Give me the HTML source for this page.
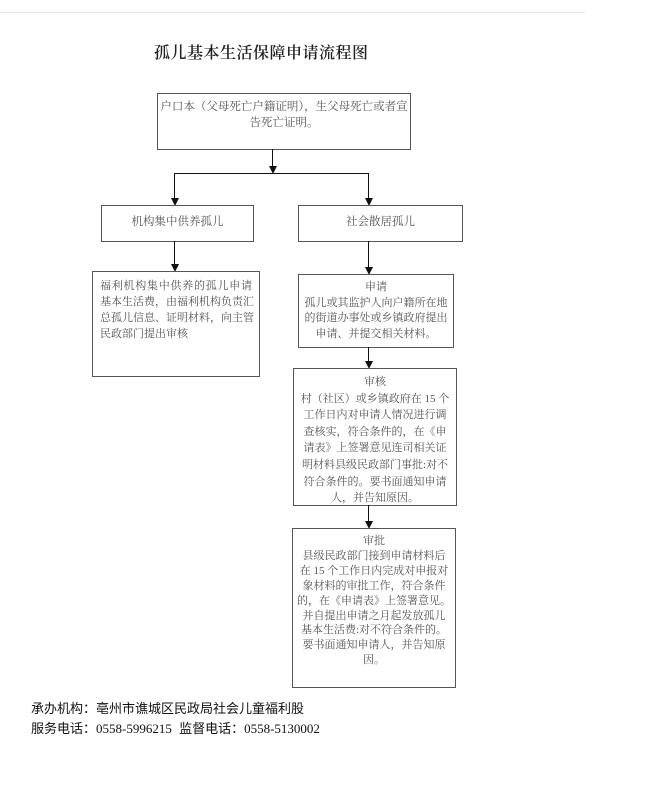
<!DOCTYPE html>
<html><head><meta charset="utf-8"><style>
body{margin:0;width:664px;height:792px;background:#fff;position:relative;overflow:hidden;font-family:"Liberation Serif","Noto Serif CJK SC",serif;}
.b{position:absolute;border:1.3px solid #555;box-sizing:border-box;color:#555;font-size:11.5px;line-height:15.5px;text-align:center;white-space:nowrap;}
.l{position:absolute;background:#111;}
.a{position:absolute;width:0;height:0;border-left:4px solid transparent;border-right:4px solid transparent;border-top:8px solid #111;}
.j{text-align:justify;text-align-last:justify;}
</style></head><body>
<div style="position:absolute;left:0;top:12px;width:585px;height:1px;background:#e6e6e6"></div>
<div style="position:absolute;left:154px;top:40px;font-size:16px;color:#222;letter-spacing:0.5px;font-family:'Liberation Serif','Noto Serif CJK SC',serif;font-weight:600">孤儿基本生活保障申请流程图</div>

<div class="b" style="left:157px;top:93px;width:254px;height:57px;padding-top:6px">户口本（父母死亡户籍证明），生父母死亡或者宣<br>告死亡证明。</div>
<div class="l" style="left:272px;top:149px;width:1.3px;height:18px"></div><div class="a" style="left:269px;top:166px"></div>
<div class="l" style="left:174px;top:173px;width:195px;height:1.3px"></div>
<div class="l" style="left:174px;top:173px;width:1.3px;height:26px"></div><div class="a" style="left:171px;top:198px"></div>
<div class="l" style="left:368px;top:173px;width:1.3px;height:26px"></div><div class="a" style="left:365px;top:198px"></div>

<div class="b" style="left:101px;top:205px;width:153px;height:37px;padding-top:9px">机构集中供养孤儿</div>
<div class="b" style="left:298px;top:205px;width:165px;height:37px;padding-top:9px">社会散居孤儿</div>

<div class="l" style="left:174px;top:241px;width:1.3px;height:24px"></div><div class="a" style="left:171px;top:264px"></div>
<div class="l" style="left:368px;top:241px;width:1.3px;height:27px"></div><div class="a" style="left:365px;top:267px"></div>

<div class="b" style="left:92px;top:271px;width:168px;height:106px;padding:6px 7px 0 7px;text-align:left;line-height:16px;font-size:11px">
<div class="j">福利机构集中供养的孤儿申请</div><div class="j">基本生活费，由福利机构负责汇</div><div class="j">总孤儿信息、证明材料，向主管</div><div>民政部门提出审核</div></div>

<div class="b" style="left:298px;top:274px;width:156px;height:74px;padding-top:5px;font-size:11px">申请<br>孤儿或其监护人向户籍所在地<br>的街道办事处或乡镇政府提出<br>申请、并提交相关材料。</div>

<div class="l" style="left:368px;top:347px;width:1.3px;height:15px"></div><div class="a" style="left:365px;top:361px"></div>

<div class="b" style="left:293px;top:368px;width:164px;height:138px;padding-top:5px;line-height:16.6px;font-size:11px">审核<br>村（社区）或乡镇政府在 15 个<br>工作日内对申请人情况进行调<br>查核实，符合条件的，在《申<br>请表》上签署意见连司相关证<br>明材料县级民政部门事批:对不<br>符合条件的。要书面通知申请<br>人，并告知原因。</div>

<div class="l" style="left:368px;top:505px;width:1.3px;height:17px"></div><div class="a" style="left:365px;top:521px"></div>

<div class="b" style="left:292px;top:528px;width:164px;height:160px;padding-top:5px;line-height:14.9px;font-size:11px">审批<br>县级民政部门接到申请材料后<br>在 15 个工作日内完成对申报对<br>象材料的审批工作，符合条件<br>的，在《申请表》上签署意见。<br>并自提出申请之月起发放孤儿<br>基本生活费:对不符合条件的。<br>要书面通知申请人，并告知原<br>因。</div>

<div style="position:absolute;left:31px;top:699px;font-size:13px;line-height:20px;color:#111;font-family:'Liberation Sans','Noto Sans CJK SC',sans-serif">承办机构：亳州市谯城区民政局社会儿童福利股<br>服务电话：<span style="font-family:'Liberation Serif',serif">0558-5996215</span>&nbsp; 监督电话：<span style="font-family:'Liberation Serif',serif">0558-5130002</span></div>
</body></html>
